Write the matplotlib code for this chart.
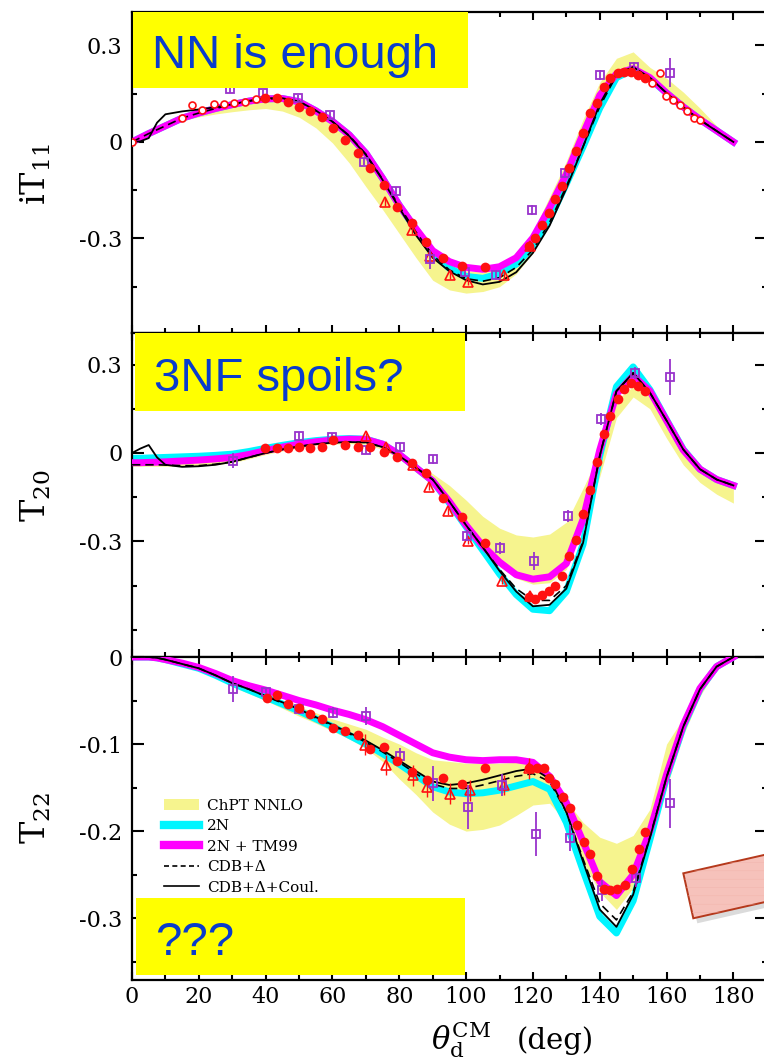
import matplotlib
matplotlib.use("Agg")
import matplotlib.pyplot as plt
from matplotlib.patches import Rectangle, Polygon, Patch
from matplotlib.lines import Line2D
from matplotlib.ticker import MultipleLocator, FixedLocator, FuncFormatter

# ---------------------------------------------------------------- data
THETA = [0, 2.5, 5, 7.5, 10, 15, 20, 25, 30, 35, 40, 45, 50, 55, 60, 65, 70, 75, 80,
         85, 90, 95, 100, 105, 110, 115, 120, 125, 130, 135, 140, 145, 150, 155, 160,
         165, 170, 175, 180]

# iT11
IT11_BAND_LO = [0, 0.012, 0.024, 0.036, 0.047, 0.066, 0.078, 0.087, 0.094, 0.1, 0.104, 0.096,
                0.077, 0.044, -0.003, -0.065, -0.139, -0.21, -0.285, -0.36, -0.43, -0.46,
                -0.47, -0.465, -0.45, -0.41, -0.345, -0.255, -0.14, -0.015, 0.11, 0.205,
                0.22, 0.19, 0.148, 0.105, 0.068, 0.033, 0]
IT11_BAND_HI = [0, 0.013, 0.026, 0.038, 0.05, 0.074, 0.09, 0.104, 0.116, 0.127, 0.134, 0.135,
                0.124, 0.097, 0.063, 0.018, -0.037, -0.112, -0.195, -0.27, -0.34, -0.38,
                -0.4, -0.405, -0.39, -0.355, -0.28, -0.17, -0.06, 0.07, 0.185, 0.26, 0.28,
                0.232, 0.198, 0.155, 0.105, 0.05, 0]
IT11_2N = [0, 0.013, 0.026, 0.038, 0.05, 0.074, 0.09, 0.104, 0.116, 0.127, 0.134, 0.135, 0.125,
           0.097, 0.064, 0.022, -0.035, -0.113, -0.197, -0.272, -0.345, -0.393, -0.418,
           -0.424, -0.41, -0.38, -0.325, -0.24, -0.13, -0.015, 0.105, 0.2, 0.225, 0.197,
           0.152, 0.109, 0.07, 0.035, 0]
IT11_TM99 = [0, 0.013, 0.026, 0.038, 0.05, 0.074, 0.09, 0.104, 0.116, 0.127, 0.134, 0.135,
             0.125, 0.097, 0.064, 0.022, -0.035, -0.113, -0.197, -0.27, -0.338, -0.372,
             -0.39, -0.396, -0.388, -0.36, -0.298, -0.205, -0.1, 0.025, 0.145, 0.212, 0.228,
             0.2, 0.152, 0.109, 0.07, 0.035, 0]
IT11_CDB = [0, 0.013, 0.026, 0.038, 0.05, 0.074, 0.09, 0.104, 0.116, 0.127, 0.134, 0.135,
            0.125, 0.097, 0.063, 0.02, -0.038, -0.116, -0.2, -0.28, -0.352, -0.398, -0.425,
            -0.433, -0.422, -0.39, -0.335, -0.25, -0.138, -0.015, 0.11, 0.207, 0.23, 0.2,
            0.152, 0.108, 0.069, 0.034, 0]
IT11_COUL = [0, 0.002, 0.012, 0.06, 0.086, 0.095, 0.101, 0.108, 0.117, 0.128, 0.136, 0.136,
             0.126, 0.098, 0.063, 0.018, -0.04, -0.118, -0.205, -0.29, -0.36, -0.402, -0.43,
             -0.443, -0.435, -0.405, -0.345, -0.26, -0.145, -0.015, 0.118, 0.212, 0.233, 0.2,
             0.152, 0.108, 0.068, 0.034, 0]

IT11_DOT_X = [39.8, 43.3, 46.8, 50.1, 53.3, 56.8, 60.1, 63.8, 67.5, 71.1, 75.3, 79.3, 83.8,
              88.1, 93.2, 98.7, 105.7, 118.7, 120.7, 122.7, 124.7, 126.7, 128.7, 130.7, 132.9,
              135.0, 137.0, 139.2, 141.2, 143.2, 145.5, 147.4, 149.4, 151.5, 153.4]
IT11_DOT_Y = [0.136, 0.136, 0.125, 0.11, 0.097, 0.076, 0.042, 0.006, -0.035, -0.082, -0.134,
              -0.201, -0.253, -0.31, -0.362, -0.386, -0.388, -0.323, -0.3, -0.258, -0.22,
              -0.178, -0.137, -0.082, -0.028, 0.027, 0.089, 0.122, 0.17, 0.198, 0.214, 0.219,
              0.219, 0.208, 0.198]
IT11_CIRC_X = [0, 14.9, 17.9, 20.9, 24.4, 27.6, 30.6, 33.8, 37.1, 155.6, 157.9, 159.9, 161.9,
               163.9, 166.1, 168.1, 170.1]
IT11_CIRC_Y = [0, 0.074, 0.115, 0.1, 0.118, 0.118, 0.12, 0.125, 0.135, 0.184, 0.213, 0.143,
               0.13, 0.115, 0.096, 0.074, 0.068]
IT11_SQ_X = [29.4, 39.3, 49.6, 59.3, 69.3, 79.1, 89.2, 99.7, 109.0, 119.7, 129.7, 140.2, 150.3,
             160.9]
IT11_SQ_Y = [0.164, 0.153, 0.136, 0.084, -0.061, -0.151, -0.365, -0.403, -0.413, -0.211, -0.097,
             0.208, 0.234, 0.215]
IT11_SQ_ERR = [0.012, 0.01, 0.01, 0.01, 0.012, 0.012, 0.03, 0.015, 0.015, 0.015, 0.015, 0.015,
               0.015, 0.045]
IT11_TRI_X = [75.8, 83.8, 89.2, 95.2, 100.7, 111.2, 119.2]
IT11_TRI_Y = [-0.186, -0.274, -0.356, -0.413, -0.434, -0.413, -0.325]

# T20
T20_BAND_LO = [-0.045, -0.045, -0.045, -0.045, -0.045, -0.045, -0.043, -0.04, -0.033, -0.02,
               -0.005, 0.007, 0.017, 0.025, 0.03, 0.032, 0.03, 0.012, -0.02, -0.065, -0.11,
               -0.18, -0.26, -0.33, -0.385, -0.425, -0.445, -0.44, -0.395, -0.24, -0.08, 0.12,
               0.19, 0.15, 0.05, -0.04, -0.1, -0.14, -0.17]
T20_BAND_HI = [-0.035, -0.035, -0.035, -0.035, -0.035, -0.033, -0.03, -0.025, -0.018, -0.007,
               0.006, 0.018, 0.028, 0.036, 0.042, 0.045, 0.044, 0.028, 0.0, -0.04, -0.07,
               -0.11, -0.16, -0.215, -0.255, -0.278, -0.285, -0.275, -0.235, -0.12, 0.0, 0.18,
               0.225, 0.2, 0.1, 0.0, -0.06, -0.095, -0.12]
T20_2N = [-0.018, -0.018, -0.017, -0.016, -0.015, -0.013, -0.011, -0.008, -0.004, 0.005, 0.016,
          0.026, 0.035, 0.042, 0.047, 0.049, 0.047, 0.03, -0.005, -0.05, -0.095, -0.17, -0.25,
          -0.33, -0.41, -0.48, -0.53, -0.535, -0.47, -0.31, -0.01, 0.225, 0.292, 0.215, 0.112,
          0.012, -0.055, -0.09, -0.11]
T20_TM99 = [-0.033, -0.033, -0.032, -0.031, -0.03, -0.027, -0.024, -0.02, -0.015, -0.005, 0.008,
            0.02, 0.03, 0.038, 0.044, 0.047, 0.046, 0.03, -0.005, -0.05, -0.095, -0.165, -0.245,
            -0.315, -0.37, -0.413, -0.428, -0.42, -0.375, -0.225, 0.01, 0.2, 0.262, 0.21, 0.11,
            0.01, -0.055, -0.09, -0.11]
T20_CDB = [-0.04, -0.04, -0.04, -0.04, -0.041, -0.043, -0.043, -0.038, -0.03, -0.015, 0.0, 0.012,
           0.022, 0.03, 0.035, 0.037, 0.036, 0.02, -0.01, -0.05, -0.09, -0.165, -0.245, -0.32,
           -0.395, -0.46, -0.5, -0.5, -0.45, -0.3, -0.01, 0.21, 0.27, 0.205, 0.11, 0.012, -0.055,
           -0.09, -0.11]
T20_COUL = [0.0, 0.015, 0.027, -0.015, -0.04, -0.047, -0.045, -0.04, -0.03, -0.015, 0.0, 0.012,
            0.022, 0.03, 0.035, 0.037, 0.036, 0.02, -0.01, -0.05, -0.09, -0.165, -0.245, -0.32,
            -0.4, -0.47, -0.52, -0.515, -0.46, -0.305, -0.01, 0.21, 0.272, 0.205, 0.11, 0.012,
            -0.055, -0.09, -0.11]

T20_DOT_X = [39.8, 43.3, 46.8, 50.1, 53.3, 56.8, 60.1, 63.8, 67.5, 71.1, 75.3, 79.3, 83.8, 88.1,
             93.2, 98.7, 105.7, 118.7, 120.7, 122.7, 124.7, 126.7, 128.7, 130.7, 132.9, 135.0,
             137.0, 139.2, 141.2, 143.2, 145.5, 147.4, 149.4, 151.5, 153.4]
T20_DOT_Y = [0.016, 0.016, 0.016, 0.019, 0.016, 0.019, 0.044, 0.027, 0.019, 0.019, 0.004, -0.013,
             -0.035, -0.067, -0.151, -0.217, -0.306, -0.488, -0.495, -0.481, -0.469, -0.45,
             -0.416, -0.351, -0.294, -0.208, -0.124, -0.03, 0.065, 0.126, 0.183, 0.217, 0.238,
             0.226, 0.209]
T20_SQ_X = [30.1, 50.1, 59.8, 70.1, 80.1, 90.2, 100.4, 110.2, 120.2, 130.4, 140.4, 150.6, 160.9]
T20_SQ_Y = [-0.026, 0.056, 0.054, 0.01, 0.019, -0.022, -0.28, -0.322, -0.367, -0.214, 0.115,
            0.272, 0.258]
T20_SQ_ERR = [0.025, 0.015, 0.015, 0.015, 0.015, 0.015, 0.02, 0.02, 0.03, 0.02, 0.02, 0.02, 0.06]
T20_TRI_X = [70.1, 76.1, 84.1, 89.0, 94.7, 100.7, 110.7, 119.2]
T20_TRI_Y = [0.056, 0.019, -0.041, -0.115, -0.197, -0.297, -0.433, -0.484]

# T22
T22_BAND_LO = [0, 0, 0, -0.001, -0.003, -0.008, -0.014, -0.023, -0.034, -0.042, -0.05, -0.059,
               -0.068, -0.076, -0.085, -0.094, -0.105, -0.12, -0.14, -0.158, -0.178, -0.192,
               -0.2, -0.198, -0.193, -0.182, -0.17, -0.168, -0.19, -0.235, -0.27, -0.29, -0.265,
               -0.21, -0.15, -0.09, -0.045, -0.014, 0]
T22_BAND_HI = [0, 0, 0, -0.001, -0.002, -0.007, -0.012, -0.02, -0.029, -0.036, -0.043, -0.05,
               -0.057, -0.064, -0.071, -0.077, -0.083, -0.092, -0.1, -0.11, -0.118, -0.12,
               -0.122, -0.122, -0.122, -0.121, -0.122, -0.135, -0.165, -0.19, -0.207, -0.214,
               -0.205, -0.175, -0.1, -0.07, -0.035, -0.01, 0]
T22_2N = [0, 0, 0, -0.001, -0.003, -0.008, -0.013, -0.021, -0.03, -0.038, -0.046, -0.054, -0.062,
          -0.071, -0.08, -0.09, -0.1, -0.111, -0.123, -0.136, -0.149, -0.155, -0.157, -0.156,
          -0.153, -0.148, -0.143, -0.152, -0.19, -0.245, -0.298, -0.317, -0.28, -0.21, -0.138,
          -0.08, -0.037, -0.011, 0]
T22_TM99 = [0, 0, 0, -0.001, -0.003, -0.007, -0.012, -0.019, -0.027, -0.033, -0.038, -0.044,
            -0.05, -0.055, -0.061, -0.066, -0.072, -0.08, -0.09, -0.1, -0.11, -0.115, -0.118,
            -0.119, -0.118, -0.118, -0.121, -0.137, -0.167, -0.212, -0.258, -0.274, -0.25, -0.2,
            -0.135, -0.078, -0.036, -0.011, 0]
T22_CDB = [0, 0, 0, -0.001, -0.003, -0.008, -0.013, -0.021, -0.03, -0.037, -0.045, -0.053, -0.061,
           -0.07, -0.079, -0.088, -0.098, -0.109, -0.121, -0.134, -0.146, -0.151, -0.151, -0.147,
           -0.142, -0.137, -0.134, -0.143, -0.178, -0.232, -0.283, -0.302, -0.27, -0.207, -0.138,
           -0.08, -0.037, -0.011, 0]
T22_COUL = [0, 0, 0, -0.001, -0.003, -0.008, -0.013, -0.021, -0.03, -0.037, -0.045, -0.052, -0.06,
            -0.069, -0.078, -0.087, -0.096, -0.107, -0.119, -0.131, -0.143, -0.147, -0.145,
            -0.141, -0.136, -0.131, -0.128, -0.14, -0.178, -0.235, -0.29, -0.31, -0.273, -0.208,
            -0.138, -0.08, -0.037, -0.011, 0]

T22_DOT_X = [40.3, 43.3, 46.6, 50.1, 53.3, 56.8, 60.1, 63.8, 67.5, 71.1, 75.3, 79.3, 83.8, 88.3,
             93.0, 98.7, 105.7, 118.7, 121.2, 123.2, 124.7, 126.7, 129.0, 131.0, 133.2, 135.2,
             137.2, 139.2, 141.2, 143.2, 145.2, 147.7, 149.7, 151.7, 153.6]
T22_DOT_Y = [-0.047, -0.044, -0.054, -0.059, -0.066, -0.071, -0.082, -0.085, -0.09, -0.106,
             -0.103, -0.12, -0.132, -0.141, -0.139, -0.146, -0.127, -0.127, -0.128, -0.128,
             -0.139, -0.146, -0.161, -0.173, -0.193, -0.212, -0.226, -0.251, -0.266, -0.268,
             -0.266, -0.262, -0.243, -0.22, -0.201]
T22_SQ_X = [30.1, 40.1, 50.1, 60.1, 70.1, 80.3, 90.2, 100.7, 110.7, 121.0, 131.0, 140.7, 150.9,
            161.1]
T22_SQ_Y = [-0.037, -0.04, -0.06, -0.064, -0.068, -0.114, -0.145, -0.172, -0.147, -0.203, -0.208,
            -0.268, -0.254, -0.168]
T22_SQ_ERR = [0.015, 0.006, 0.005, 0.006, 0.01, 0.01, 0.02, 0.025, 0.013, 0.025, 0.015, 0.012,
              0.01, 0.028]
T22_TRI_X = [69.8, 76.1, 84.1, 88.3, 95.2, 101.2, 111.2, 118.7]
T22_TRI_Y = [-0.101, -0.124, -0.136, -0.149, -0.157, -0.153, -0.147, -0.128]

LEGEND_LABELS = ["ChPT NNLO", "2N", "2N + TM99", "CDB+Δ", "CDB+Δ+Coul."]
NOTES = ["NN is enough", "3NF spoils?", "???"]

# ---------------------------------------------------------------- style
BAND = "#f6f48e"
CYAN = "#00f5ff"
MAGENTA = "#ff00ff"
RED = "#ff1010"
PURPLE = "#9933cc"
NOTE_BG = "#ffff00"
NOTE_FG = "#0a3ccc"
TRI_ERR = 0.012

W, H = 764, 1063


def fx(px):
    return px / W


def fy(py):
    return 1 - py / H


plt.rcParams["font.family"] = ["DejaVu Serif"]
plt.rcParams["mathtext.fontset"] = "dejavuserif"
plt.rcParams["axes.unicode_minus"] = False
plt.rcParams["hatch.linewidth"] = 0.3

fig = plt.figure(figsize=(W / 100, H / 100), dpi=100)

X_LEFT = 132
X_SCALE = 3.341  # px per degree
X_MAX = 190

# (top px, bottom px, ylim, major ticks, minor step)
layout = [
    (12, 333, (-0.594, 0.404), [-0.3, 0, 0.3], 0.15),
    (333, 657, (-0.692, 0.407), [-0.3, 0, 0.3], 0.15),
    (657, 980, (-0.371, 0.0), [-0.3, -0.2, -0.1, 0], 0.05),
]

panels = [
    (IT11_BAND_LO, IT11_BAND_HI, IT11_2N, IT11_TM99, IT11_CDB, IT11_COUL,
     IT11_DOT_X, IT11_DOT_Y, IT11_SQ_X, IT11_SQ_Y, IT11_SQ_ERR, IT11_TRI_X, IT11_TRI_Y),
    (T20_BAND_LO, T20_BAND_HI, T20_2N, T20_TM99, T20_CDB, T20_COUL,
     T20_DOT_X, T20_DOT_Y, T20_SQ_X, T20_SQ_Y, T20_SQ_ERR, T20_TRI_X, T20_TRI_Y),
    (T22_BAND_LO, T22_BAND_HI, T22_2N, T22_TM99, T22_CDB, T22_COUL,
     T22_DOT_X, T22_DOT_Y, T22_SQ_X, T22_SQ_Y, T22_SQ_ERR, T22_TRI_X, T22_TRI_Y),
]


def ytick_fmt(v, pos):
    return "0" if abs(v) < 1e-9 else f"{v:.1f}"


axes = []
for i, ((top, bot, ylim, majors, minor), data) in enumerate(zip(layout, panels)):
    ax = fig.add_axes([fx(X_LEFT), fy(bot), X_MAX * X_SCALE / W, (bot - top) / H])
    axes.append(ax)
    lo, hi, c2n, tm99, cdb, coul, dx, dy, sx, sy, serr, tx, ty = data

    ax.fill_between(THETA, lo, hi, color=BAND, lw=0, zorder=1)
    ax.plot(THETA, c2n, color=CYAN, lw=5, solid_joinstyle="round", zorder=2)
    ax.plot(THETA, tm99, color=MAGENTA, lw=5, solid_joinstyle="round", zorder=3)
    ax.plot(THETA, cdb, color="black", lw=1.2, ls=(0, (5, 3)), zorder=4)
    ax.plot(THETA, coul, color="black", lw=1.3, zorder=5)

    ax.errorbar(tx, ty, yerr=TRI_ERR, fmt="^", ms=7, mfc="none", mec=RED, mew=1.2,
                ecolor=RED, elinewidth=1.0, capsize=0, zorder=6)
    ax.errorbar(sx, sy, yerr=serr, fmt="s", ms=6, mfc="none", mec=PURPLE, mew=1.3,
                ecolor=PURPLE, elinewidth=1.3, capsize=0, zorder=7)
    if i == 0:
        ax.plot(IT11_CIRC_X, IT11_CIRC_Y, "o", ms=5, mfc="white", mec=RED, mew=1.2, zorder=8)
    ax.plot(dx, dy, "o", ms=7, color=RED, mec="none", zorder=9)

    ax.set_xlim(0, X_MAX)
    ax.set_ylim(*ylim)
    ax.xaxis.set_major_locator(MultipleLocator(20))
    ax.xaxis.set_minor_locator(MultipleLocator(10))
    ax.yaxis.set_major_locator(FixedLocator(majors))
    ax.yaxis.set_minor_locator(MultipleLocator(minor))
    ax.yaxis.set_major_formatter(FuncFormatter(ytick_fmt))

    ax.tick_params(axis="x", which="major", direction="in", length=6, width=1.5,
                   top=True, bottom=True, labelsize=16, pad=4, labelbottom=(i == 2))
    ax.tick_params(axis="x", which="minor", direction="in", length=3.6, width=1.5,
                   top=True, bottom=True)
    ax.tick_params(axis="y", which="major", direction="in", length=8.6, width=1.5,
                   left=True, right=True, labelsize=16, pad=7)
    ax.tick_params(axis="y", which="minor", direction="in", length=3.6, width=1.5,
                   left=True, right=True)
    for spine in ax.spines.values():
        spine.set_linewidth(1.6)

# axis titles
for label, yc in zip([r"iT$_{11}$", r"T$_{20}$", r"T$_{22}$"], [174, 496, 818]):
    fig.text(fx(36), fy(yc), label, rotation=90, ha="center", va="center", fontsize=24)
fig.text(fx(431), fy(1049), r"$\theta_{\mathrm{d}}^{\mathrm{CM}}$", fontsize=22,
         ha="left", va="baseline")
fig.text(fx(517), fy(1049), "(deg)", fontsize=21, ha="left", va="baseline")

# legend
handles = [
    Patch(facecolor=BAND, edgecolor="none"),
    Line2D([], [], color=CYAN, lw=6),
    Line2D([], [], color=MAGENTA, lw=6),
    Line2D([], [], color="black", lw=1.2, ls=(0, (3, 2))),
    Line2D([], [], color="black", lw=1.2),
]
axes[2].legend(handles, LEGEND_LABELS, loc="upper left", bbox_to_anchor=(fx(164), fy(799)),
               bbox_transform=fig.transFigure, frameon=False, fontsize=11,
               handlelength=2.3, handletextpad=0.5, labelspacing=0.42,
               borderpad=0, borderaxespad=0)

# yellow note boxes (left, top, right, bottom, text x, text baseline) in px
boxes = [(133, 12, 468, 88, 152, 68), (135, 333, 465, 411, 154, 391),
         (136, 898, 465, 975, 155, 955)]
for (l, t, r, b, tx_, ty_), note in zip(boxes, NOTES):
    fig.add_artist(Rectangle((fx(l), fy(b)), (r - l) / W, (b - t) / H,
                             transform=fig.transFigure, facecolor=NOTE_BG,
                             edgecolor="none", zorder=20))
    fig.text(fx(tx_), fy(ty_), note, family="Liberation Sans", fontsize=34,
             color=NOTE_FG, ha="left", va="baseline", zorder=21)

# tilted pink card at lower right (runs off the page)
card = [(683.3, 873.3), (829.6, 840.1), (839.6, 885.1), (693.3, 918.3)]
shadow = [(x + 4, y + 5) for x, y in card]
fig.add_artist(Polygon([(fx(x), fy(y)) for x, y in shadow], closed=True,
                       transform=fig.transFigure, facecolor="#888888", alpha=0.3,
                       edgecolor="none", zorder=22))
fig.add_artist(Polygon([(fx(x), fy(y)) for x, y in card], closed=True,
                       transform=fig.transFigure, facecolor="#f6c2bb",
                       edgecolor="#b5391c", lw=1.4, zorder=23))
fig.add_artist(Polygon([(fx(x), fy(y)) for x, y in card], closed=True,
                       transform=fig.transFigure, fill=False, hatch="--",
                       edgecolor="#f1b3ab", lw=0, zorder=24))

fig.savefig("out.png", dpi=100)
